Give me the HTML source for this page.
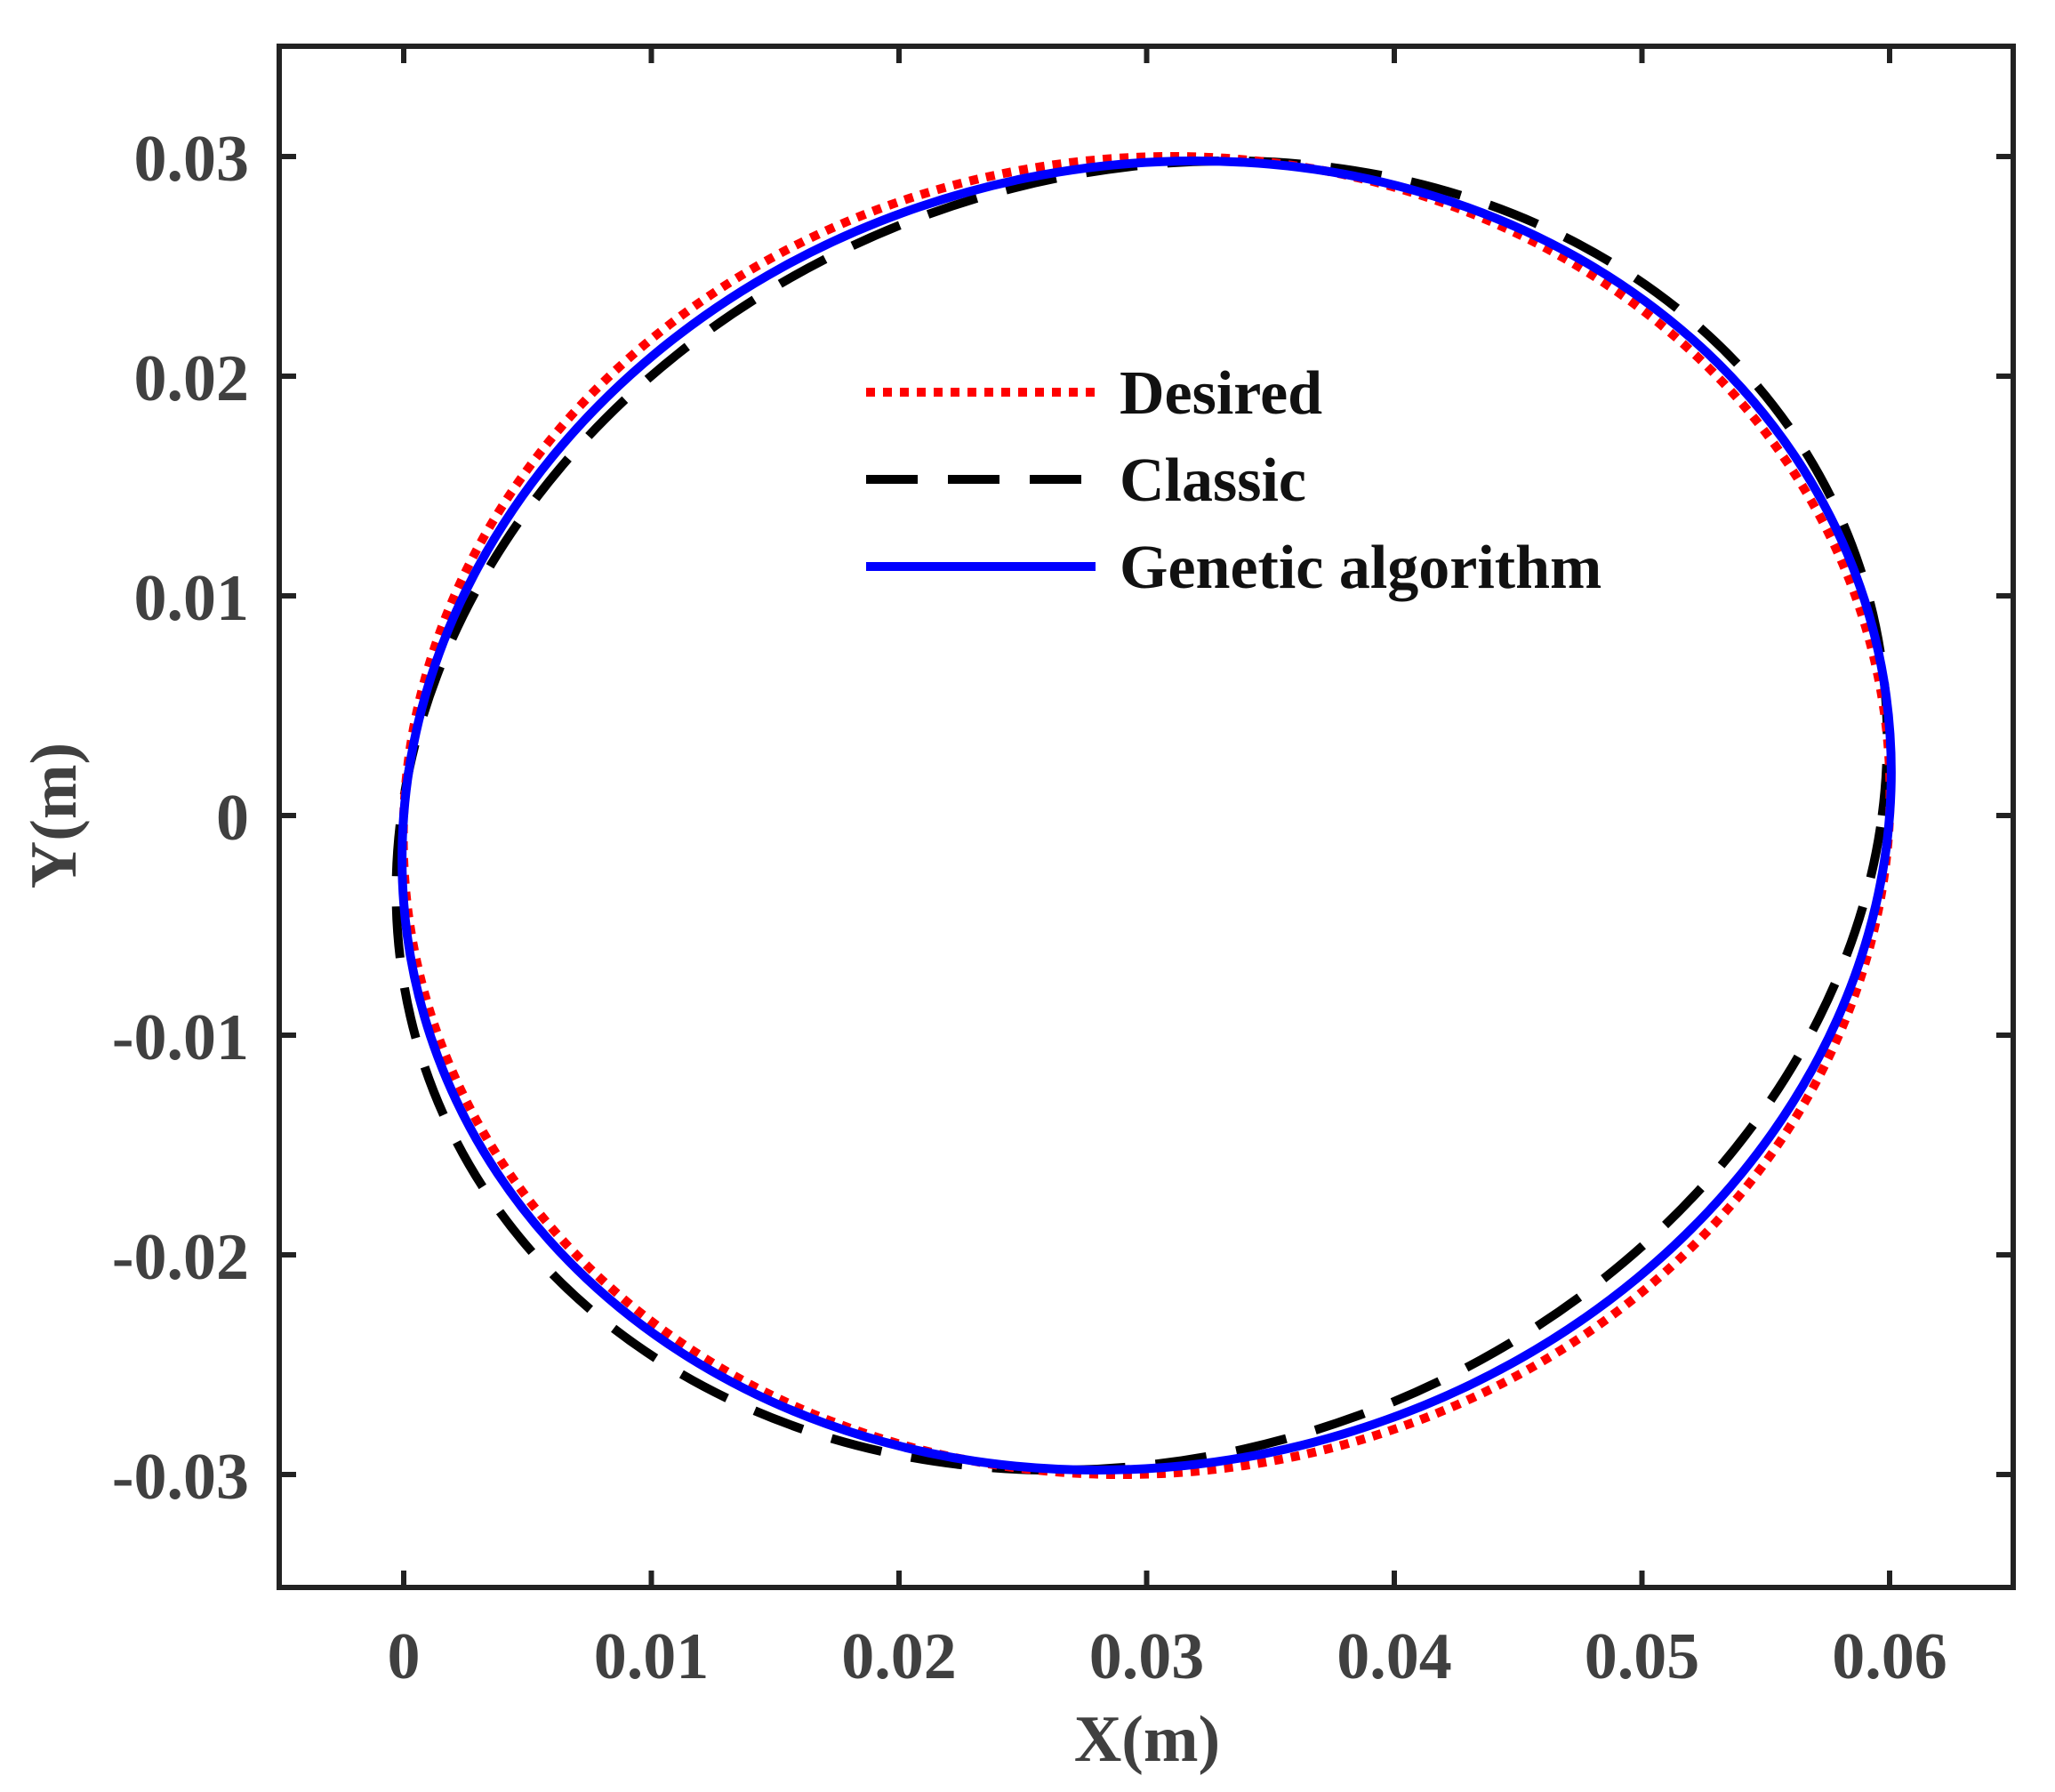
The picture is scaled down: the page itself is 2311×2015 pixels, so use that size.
<!DOCTYPE html>
<html><head><meta charset="utf-8"><style>
html,body{margin:0;padding:0;background:#fff;}
svg{display:block;}
text{font-family:"Liberation Serif",serif;font-weight:bold;fill:#404040;}
</style></head><body>
<svg width="2311" height="2015" viewBox="0 0 2311 2015" xmlns="http://www.w3.org/2000/svg">
<rect width="2311" height="2015" fill="#fff"/>
<g fill="none" stroke-linecap="butt">
  <!-- Classic -->
  <circle cx="0" cy="0" r="1" transform="matrix(832.7,0,97.5,-736.1,1283.9,917)" stroke="#000" stroke-width="10" stroke-dasharray="58 34" vector-effect="non-scaling-stroke"/>
  <!-- Desired -->
  <circle cx="0" cy="0" r="1" transform="matrix(835.5,0,27.85,-741,1289.5,917)" stroke="#ff0000" stroke-width="10" stroke-dasharray="10 9" vector-effect="non-scaling-stroke"/>
  <!-- Genetic -->
  <circle cx="0" cy="0" r="1" transform="matrix(835.5,0,55.7,-736,1289.5,917)" stroke="#0000ff" stroke-width="10" vector-effect="non-scaling-stroke"/>
</g>
<rect x="314" y="52" width="1950" height="1733" fill="none" stroke="#222" stroke-width="6"/>
<g stroke="#222" stroke-width="6">
  <path d="M454 1785v-19M732.5 1785v-19M1011 1785v-19M1289.5 1785v-19M1568 1785v-19M1846.5 1785v-19M2125 1785v-19
           M454 52v19M732.5 52v19M1011 52v19M1289.5 52v19M1568 52v19M1846.5 52v19M2125 52v19"/>
  <path d="M314 176h19M314 423h19M314 670h19M314 917h19M314 1164h19M314 1411h19M314 1658h19
           M2264 176h-19M2264 423h-19M2264 670h-19M2264 917h-19M2264 1164h-19M2264 1411h-19M2264 1658h-19"/>
</g>
<g font-size="74" text-anchor="middle">
  <text x="454" y="1887">0</text>
  <text x="732.5" y="1887">0.01</text>
  <text x="1011" y="1887">0.02</text>
  <text x="1289.5" y="1887">0.03</text>
  <text x="1568" y="1887">0.04</text>
  <text x="1846.5" y="1887">0.05</text>
  <text x="2125" y="1887">0.06</text>
</g>
<g font-size="74" text-anchor="end">
  <text x="280" y="203">0.03</text>
  <text x="280" y="450">0.02</text>
  <text x="280" y="697">0.01</text>
  <text x="280" y="944">0</text>
  <text x="280" y="1191">-0.01</text>
  <text x="280" y="1438">-0.02</text>
  <text x="280" y="1685">-0.03</text>
</g>
<text x="1290" y="1980" font-size="74" text-anchor="middle">X(m)</text>
<text transform="translate(85,917) rotate(-90)" font-size="74" text-anchor="middle">Y(m)</text>
<line x1="974" y1="441" x2="1232" y2="441" stroke="#ff0000" stroke-width="10" stroke-dasharray="10 9"/>
<line x1="974" y1="539" x2="1232" y2="539" stroke="#000" stroke-width="10" stroke-dasharray="58 34"/>
<line x1="974" y1="637" x2="1232" y2="637" stroke="#0000ff" stroke-width="10"/>
<g font-size="70">
  <text x="1259" y="465" style="fill:#111">Desired</text>
  <text x="1259" y="563" style="fill:#111">Classic</text>
  <text x="1259" y="661" style="fill:#111">Genetic algorithm</text>
</g>
</svg>
</body></html>
